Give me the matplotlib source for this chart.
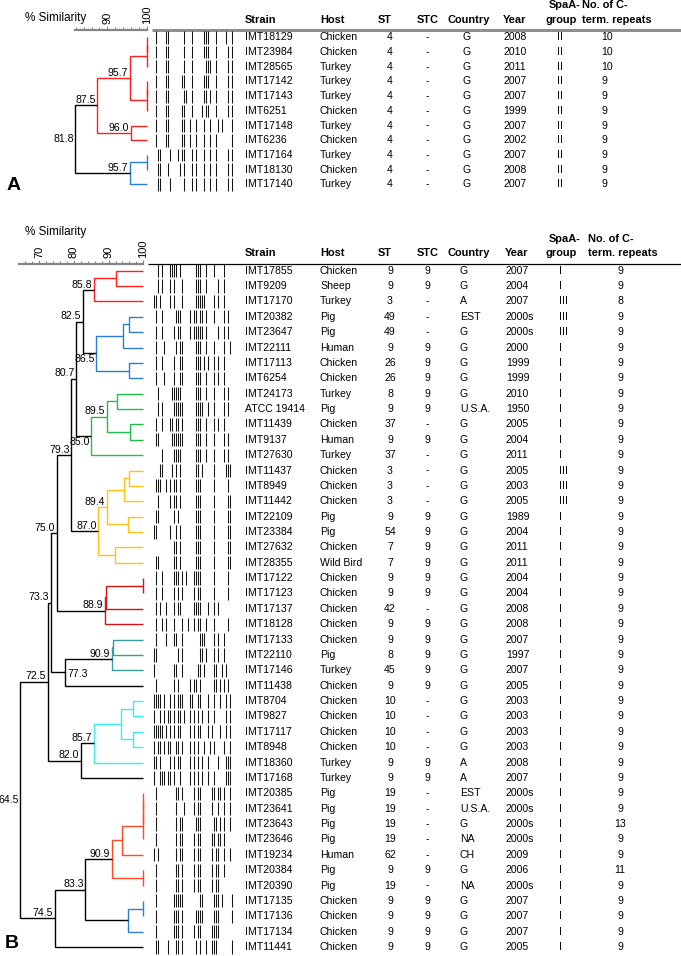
import numpy as np
import matplotlib
matplotlib.use("Agg")
import matplotlib.pyplot as plt

plt.rcParams['font.family'] = ['Liberation Sans', 'DejaVu Sans']
FS = 7.6
FS_HEAD = 7.9

# ---------------- panel A ----------------
strain_a = ["IMT18129", "IMT23984", "IMT28565", "IMT17142", "IMT17143", "IMT6251",
            "IMT17148", "IMT6236", "IMT17164", "IMT18130", "IMT17140"]
host_a = ["Chicken", "Chicken", "Turkey", "Turkey", "Turkey", "Chicken",
          "Turkey", "Chicken", "Turkey", "Chicken", "Turkey"]
st_a = ["4", "4", "4", "4", "4", "4", "4", "4", "4", "4", "4"]
stc_a = ["-", "-", "-", "-", "-", "-", "-", "-", "-", "-", "-"]
country_a = ["G", "G", "G", "G", "G", "G", "G", "G", "G", "G", "G"]
year_a = ["2008", "2010", "2011", "2007", "2007", "1999", "2007", "2002", "2007", "2008", "2007"]
spa_a = ["II", "II", "II", "II", "II", "II", "II", "II", "II", "II", "II"]
rep_a = ["10", "10", "10", "9", "9", "9", "9", "9", "9", "9", "9"]

# merges: (child, child, % similarity); leaves 0..10, new nodes numbered from 11
merges_a = [(0, 1, 100.0), (11, 2, 100.0), (3, 4, 100.0), (13, 5, 100.0),
            (12, 14, 95.7), (6, 7, 96.0), (15, 16, 87.5),
            (8, 9, 100.0), (18, 10, 95.7), (17, 19, 81.8)]
colors_a = ["red", "red", "red", "red", "red", "red", "red", "blue", "blue", "k"]
labels_a = ["", "", "", "", "95.7", "96.0", "87.5", "", "95.7", "81.8"]
places_a = {9: "left"}

# band positions (2 px slots across the lane)
gel_a = [
    [1, 6, 7, 15, 19, 25, 26, 27, 31, 36, 39],
    [1, 6, 7, 15, 19, 25, 26, 27, 31, 37, 39],
    [1, 6, 7, 15, 19, 26, 27, 28, 31, 37, 39],
    [1, 6, 7, 14, 15, 19, 25, 26, 27, 31, 37, 39],
    [1, 6, 7, 15, 16, 19, 25, 26, 28, 31, 37, 39],
    [1, 6, 7, 14, 15, 19, 24, 26, 27, 31, 37, 39],
    [1, 6, 7, 14, 15, 18, 21, 25, 28, 32, 34, 39],
    [1, 6, 7, 14, 15, 18, 21, 25, 28, 31, 39],
    [2, 3, 8, 12, 14, 15, 19, 21, 25, 28, 31, 37, 39],
    [2, 3, 7, 13, 15, 19, 21, 25, 28, 31, 37, 39],
    [2, 3, 8, 15, 19, 21, 25, 28, 31, 37, 39],
]

# ---------------- panel B ----------------
strain_b = ["IMT17855", "IMT9209", "IMT17170", "IMT20382", "IMT23647", "IMT22111", "IMT17113",
            "IMT6254", "IMT24173", "ATCC 19414", "IMT11439", "IMT9137", "IMT27630", "IMT11437",
            "IMT8949", "IMT11442", "IMT22109", "IMT23384", "IMT27632", "IMT28355", "IMT17122",
            "IMT17123", "IMT17137", "IMT18128", "IMT17133", "IMT22110", "IMT17146", "IMT11438",
            "IMT8704", "IMT9827", "IMT17117", "IMT8948", "IMT18360", "IMT17168", "IMT20385",
            "IMT23641", "IMT23643", "IMT23646", "IMT19234", "IMT20384", "IMT20390", "IMT17135",
            "IMT17136", "IMT17134", "IMT11441"]
host_b = ["Chicken", "Sheep", "Turkey", "Pig", "Pig", "Human", "Chicken", "Chicken", "Turkey",
          "Pig", "Chicken", "Human", "Turkey", "Chicken", "Chicken", "Chicken", "Pig", "Pig",
          "Chicken", "Wild Bird", "Chicken", "Chicken", "Chicken", "Chicken", "Chicken", "Pig",
          "Turkey", "Chicken", "Chicken", "Chicken", "Chicken", "Chicken", "Turkey", "Turkey",
          "Pig", "Pig", "Pig", "Pig", "Human", "Pig", "Pig", "Chicken", "Chicken", "Chicken",
          "Chicken"]
st_b = ["9", "9", "3", "49", "49", "9", "26", "26", "8", "9", "37", "9", "37", "3", "3", "3",
        "9", "54", "7", "7", "9", "9", "42", "9", "9", "8", "45", "9", "10", "10", "10", "10",
        "9", "9", "19", "19", "19", "19", "62", "9", "19", "9", "9", "9", "9"]
stc_b = ["9", "9", "-", "-", "-", "9", "9", "9", "9", "9", "-", "9", "-", "-", "-", "-",
         "9", "9", "9", "9", "9", "9", "-", "9", "9", "9", "9", "9", "-", "-", "-", "-",
         "9", "9", "-", "-", "-", "-", "-", "9", "-", "9", "9", "9", "9"]
country_b = ["G", "G", "A", "EST", "G", "G", "G", "G", "G", "U.S.A.", "G", "G", "G", "G", "G",
             "G", "G", "G", "G", "G", "G", "G", "G", "G", "G", "G", "G", "G", "G", "G", "G",
             "G", "A", "A", "EST", "U.S.A.", "G", "NA", "CH", "G", "NA", "G", "G", "G", "G"]
year_b = ["2007", "2004", "2007", "2000s", "2000s", "2000", "1999", "1999", "2010", "1950",
          "2005", "2004", "2011", "2005", "2003", "2005", "1989", "2004", "2011", "2011",
          "2004", "2004", "2008", "2008", "2007", "1997", "2007", "2005", "2003", "2003",
          "2003", "2003", "2008", "2007", "2000s", "2000s", "2000s", "2000s", "2009", "2006",
          "2000s", "2007", "2007", "2007", "2005"]
spa_b = ["I", "I", "III", "III", "III", "I", "I", "I", "I", "I", "I", "I", "I", "III", "III",
         "III", "I", "I", "I", "I", "I", "I", "I", "I", "I", "I", "I", "I", "I", "I", "I",
         "I", "I", "I", "I", "I", "I", "I", "I", "I", "I", "I", "I", "I", "I"]
rep_b = ["9", "9", "8", "9", "9", "9", "9", "9", "9", "9", "9", "9", "9", "9", "9", "9",
         "9", "9", "9", "9", "9", "9", "9", "9", "9", "9", "9", "9", "9", "9", "9", "9",
         "9", "9", "9", "9", "13", "9", "9", "11", "9", "9", "9", "9", "9"]

# leaves 0..44, new nodes numbered from 45
merges_b = [
    (0, 1, 92.1), (45, 2, 85.8),                                    # 45-46 red
    (3, 4, 96.0), (47, 5, 94.1), (6, 7, 96.0), (48, 49, 86.5),      # 47-50 blue
    (46, 50, 82.5),                                                 # 51
    (8, 9, 92.5), (10, 11, 96.2), (52, 53, 89.5), (54, 12, 85.0),   # 52-55 green
    (51, 55, 80.7),                                                 # 56
    (13, 14, 96.0), (57, 15, 94.4), (16, 17, 95.7), (58, 59, 89.4),
    (18, 19, 91.8), (60, 61, 87.0),                                 # 57-62 yellow
    (56, 62, 79.3),                                                 # 63
    (20, 21, 99.8), (64, 22, 89.2), (65, 23, 88.9),                 # 64-66 dark red
    (63, 66, 75.0),                                                 # 67
    (24, 25, 91.4), (68, 26, 90.9),                                 # 68-69 teal
    (69, 27, 77.3), (67, 70, 73.3),                                 # 70-71
    (28, 29, 96.9), (30, 31, 96.9), (72, 73, 93.5), (74, 32, 85.7), # 72-75 cyan
    (75, 33, 82.0), (71, 76, 72.5),                                 # 76-77
    (34, 35, 100.0), (78, 36, 100.0), (79, 37, 100.0), (80, 38, 93.8),
    (39, 40, 100.0), (81, 82, 90.9),                                # 78-83 orange
    (41, 42, 100.0), (84, 43, 95.7),                                # 84-85 blue
    (83, 85, 83.3), (86, 44, 74.5), (77, 87, 64.5),                 # 86-88
]
colors_b = ["red", "red", "blue", "blue", "blue", "blue", "k",
            "green", "green", "green", "green", "k",
            "yellow", "yellow", "yellow", "yellow", "yellow", "yellow", "k",
            "darkred", "darkred", "darkred", "k", "teal", "teal", "k", "k",
            "cyan", "cyan", "cyan", "cyan", "k", "k",
            "orange", "orange", "orange", "orange", "orange", "orange",
            "blue", "blue", "k", "k", "k"]
labels_b = ["", "85.8", "", "", "", "86.5", "82.5", "", "", "89.5", "85.0", "80.7",
            "", "", "", "89.4", "", "87.0", "79.3", "", "", "88.9", "75.0", "", "90.9",
            "77.3", "73.3", "", "", "", "85.7", "82.0", "72.5", "", "", "", "", "", "90.9",
            "", "", "83.3", "74.5", "64.5"]
places_b = {5: "below", 10: "below", 25: "right", 43: "left"}

gel_b = [
    [2, 4, 8, 9, 10, 11, 13, 21, 22, 23, 26, 30, 35],
    [2, 4, 8, 10, 14, 21, 22, 23, 26, 32, 35],
    [0, 1, 3, 8, 10, 14, 21, 22, 23, 24, 25, 30, 32, 35],
    [1, 4, 11, 12, 13, 18, 20, 21, 23, 24, 26, 30, 35, 37],
    [1, 4, 10, 12, 13, 18, 20, 21, 22, 23, 24, 26, 32, 35, 37],
    [1, 5, 11, 13, 14, 21, 22, 23, 26, 30, 35, 38],
    [1, 4, 10, 13, 14, 21, 22, 23, 25, 27, 30, 32, 35],
    [1, 5, 10, 13, 14, 21, 22, 23, 26, 30, 32, 35],
    [2, 9, 10, 11, 12, 13, 21, 22, 23, 26, 30, 35, 37],
    [2, 4, 10, 11, 12, 13, 14, 21, 22, 23, 24, 27, 30, 35, 37],
    [1, 4, 8, 9, 11, 12, 14, 21, 22, 23, 26, 30, 32, 35],
    [1, 2, 9, 10, 11, 12, 13, 14, 21, 22, 23, 26, 30, 35, 37],
    [4, 10, 11, 12, 13, 21, 22, 23, 26, 30, 35, 37],
    [3, 4, 9, 11, 13, 21, 22, 24, 30, 36, 37, 38],
    [1, 2, 3, 6, 8, 10, 11, 13, 21, 22, 23, 30, 37],
    [2, 8, 10, 11, 13, 21, 22, 23, 30, 37, 38],
    [1, 2, 10, 12, 21, 22, 23, 30, 37, 38],
    [0, 1, 8, 11, 13, 21, 22, 23, 30, 37, 38],
    [10, 11, 13, 21, 22, 23, 30, 37, 38],
    [1, 2, 10, 11, 13, 21, 22, 23, 30, 37, 38],
    [1, 4, 10, 11, 12, 14, 16, 20, 21, 22, 23, 30, 37],
    [1, 4, 10, 12, 14, 20, 22, 23, 30, 37],
    [1, 3, 6, 10, 12, 13, 20, 21, 22, 23, 27, 30, 32],
    [1, 4, 6, 10, 14, 17, 20, 22, 23, 26, 30, 37],
    [1, 6, 10, 11, 14, 23, 24, 25, 30, 32, 35],
    [0, 1, 12, 14, 23, 24, 26, 30, 32, 35],
    [0, 10, 11, 14, 22, 23, 25, 30, 31, 34, 36],
    [1, 10, 12, 18, 20, 21, 23, 30, 31, 33, 35, 37],
    [0, 1, 2, 3, 5, 8, 10, 12, 13, 14, 18, 19, 22, 23, 27, 30, 33, 36, 38],
    [0, 3, 5, 7, 8, 10, 12, 13, 15, 18, 20, 22, 24, 27, 30, 36, 38],
    [0, 1, 2, 3, 4, 6, 8, 10, 12, 13, 18, 20, 22, 23, 27, 29, 33, 36, 38],
    [0, 2, 3, 5, 7, 8, 11, 12, 14, 18, 20, 22, 25, 28, 30, 35, 38],
    [0, 1, 3, 8, 10, 12, 13, 18, 20, 22, 24, 27, 32, 36, 37, 38],
    [0, 3, 4, 5, 7, 8, 10, 13, 18, 20, 22, 24, 27, 30, 36, 37, 38],
    [1, 11, 12, 14, 20, 22, 23, 29, 30, 32, 33, 35, 38],
    [1, 11, 15, 20, 22, 23, 29, 32, 35, 38],
    [1, 11, 13, 14, 21, 22, 23, 30, 31, 33, 35, 38],
    [1, 11, 13, 14, 20, 22, 23, 29, 30, 32, 33, 35],
    [0, 2, 11, 13, 14, 20, 22, 23, 29, 31, 32, 35, 38],
    [1, 11, 12, 14, 20, 22, 23, 29, 31, 32, 35],
    [1, 11, 12, 14, 20, 22, 23, 29, 31, 32],
    [1, 10, 11, 12, 13, 14, 23, 24, 30, 31, 32, 34, 39],
    [1, 10, 11, 12, 14, 21, 22, 23, 24, 30, 31, 32, 39],
    [1, 10, 11, 12, 14, 20, 22, 23, 29, 30, 31, 32],
    [1, 2, 7, 11, 12, 14, 21, 23, 26, 29, 30, 31, 39],
]

palette = {"k": "black", "red": "#ff1f1f", "blue": "#2a7fd2", "green": "#1fbf4c",
           "yellow": "#ffc21a", "darkred": "#d41414", "teal": "#3a9a9c",
           "cyan": "#38ecf2", "orange": "#ff4a22"}

W, H = 681, 956
fig = plt.figure(figsize=(W / 100, H / 100), dpi=100)


def px_axes(x0, y0, x1, y1):
    ax = fig.add_axes([x0 / W, 1 - y1 / H, (x1 - x0) / W, (y1 - y0) / H])
    ax.patch.set_visible(False)
    return ax


def row_lim(ax, y_top, y_bot, y0, dy):
    ax.set_ylim((y_bot - y0) / dy, (y_top - y0) / dy)


def draw_tree(ax, merges, n, colors, labels, places):
    pos = {i: (100.0, float(i)) for i in range(n)}
    for k, (a, b, s) in enumerate(merges):
        xa, ya = pos[a]
        xb, yb = pos[b]
        c = palette[colors[k]]
        ax.plot([xa, s, s, xb], [ya, ya, yb, yb], color=c, lw=1.0,
                clip_on=False, solid_joinstyle="miter", solid_capstyle="butt")
        ym = (ya + yb) / 2
        pos[n + k] = (s, ym)
        if labels[k]:
            where = places.get(k, "above")
            if where == "above":
                kw = dict(xytext=(-1.3, 0.2), ha="right", va="bottom")
            elif where == "below":
                kw = dict(xytext=(-1.3, -0.8), ha="right", va="top")
            elif where == "right":
                kw = dict(xytext=(1.8, -1.5), ha="left", va="center")
            else:
                kw = dict(xytext=(-0.8, 0), ha="right", va="center")
            ax.annotate(labels[k], (s, ym), textcoords="offset points",
                        fontsize=FS, **kw)


def scale_axis(ax, lo, majors, minors):
    for side in ["left", "right", "bottom"]:
        ax.spines[side].set_visible(False)
    ax.spines["top"].set_bounds(lo, 100)
    ax.spines["top"].set_color("#858585")
    ax.spines["top"].set_linewidth(1.6)
    ax.xaxis.tick_top()
    ax.set_xticks(majors)
    ax.set_xticks(minors, minor=True)
    ax.set_yticks([])
    ax.tick_params(axis="x", which="both", direction="out", color="#858585",
                   width=0.8, pad=1.0, labelsize=FS + 0.4, labelrotation=90)
    ax.tick_params(axis="x", which="major", length=3.0)
    ax.tick_params(axis="x", which="minor", length=2.0)


def draw_gel(ax, gel, x0):
    for i, lane in enumerate(gel):
        xs = [x0 + 2 * s + 1 for s in lane]
        ax.vlines(xs, i - 0.43, i + 0.43, color="#151515", lw=0.75)


def draw_table(ax, cols, xs, aligns):
    for col, x, ha in zip(cols, xs, aligns):
        for i, v in enumerate(col):
            ax.text(x, i, v, ha=ha, va="center", fontsize=FS)


def draw_header(ax, y_main, y_top, xs_main, x_spa, x_grp, x_no, x_term):
    names = ["Strain", "Host", "ST", "STC", "Country", "Year"]
    aligns = ["left", "left", "center", "center", "center", "left"]
    for t, x, ha in zip(names, xs_main, aligns):
        ax.text(x, y_main, t, ha=ha, va="center", fontsize=FS_HEAD, fontweight="bold")
    ax.text(x_spa, y_top, "SpaA-", ha="left", va="center", fontsize=FS_HEAD,
            fontweight="bold")
    ax.text(x_grp, y_main, "group", ha="left", va="center", fontsize=FS_HEAD,
            fontweight="bold")
    ax.text(x_no, y_top, "No. of C-", ha="left", va="center", fontsize=FS_HEAD,
            fontweight="bold")
    ax.text(x_term, y_main, "term. repeats", ha="left", va="center", fontsize=FS_HEAD,
            fontweight="bold")


# ---------- panel A layout ----------
A_y0, A_dy = 37.4, 14.7
A_px100, A_pxper = 146.7, 3.94

tab_a = px_axes(0, 0, W, 200)
tab_a.set_xlim(0, W)
row_lim(tab_a, 0, 200, A_y0, A_dy)
tab_a.axis("off")

den_a = px_axes(0, 29.5, 152, 200)
den_a.set_xlim(100 - A_px100 / A_pxper, 100 + (152 - A_px100) / A_pxper)
row_lim(den_a, 29.5, 200, A_y0, A_dy)
scale_axis(den_a, 81.8, [90, 100], np.arange(82, 100, 2))
draw_tree(den_a, merges_a, len(strain_a), colors_a, labels_a, places_a)

tab_a.plot([152, W], [(30 - A_y0) / A_dy] * 2, color="#8f8f8f", lw=2.2,
           solid_capstyle="butt")
draw_gel(tab_a, gel_a, 152.7)
draw_table(tab_a, [strain_a, host_a, st_a, stc_a, country_a, year_a, spa_a, rep_a],
           [245, 320, 390, 427, 467, 503, 557, 601],
           ["left", "left", "center", "center", "center", "left", "left", "left"])
draw_header(tab_a, (20 - A_y0) / A_dy, (5 - A_y0) / A_dy,
            [245, 320, 385, 428, 469, 503], 549, 546, 582, 582)
tab_a.text(25, (18 - A_y0) / A_dy, "% Similarity", ha="left", va="center", fontsize=8.5)
tab_a.text(7, (190 - A_y0) / A_dy, "A", ha="left", va="baseline", fontsize=14,
           fontweight="bold")

# ---------- panel B layout ----------
B_y0, B_dy = 270.7, 15.37
B_px100, B_pxper = 143.3, 3.47

tab_b = px_axes(0, 225, W, H)
tab_b.set_xlim(0, W)
row_lim(tab_b, 225, H, B_y0, B_dy)
tab_b.axis("off")

den_b = px_axes(0, 263.5, 150, H)
den_b.set_xlim(100 - B_px100 / B_pxper, 100 + (150 - B_px100) / B_pxper)
row_lim(den_b, 263.5, H, B_y0, B_dy)
scale_axis(den_b, 64.3, [70, 80, 90, 100], [66, 68, 72, 74, 76, 78, 82, 84, 86, 88,
                                              92, 94, 96, 98])
draw_tree(den_b, merges_b, len(strain_b), colors_b, labels_b, places_b)

tab_b.plot([148, W], [(263.5 - B_y0) / B_dy] * 2, color="black", lw=0.9,
           solid_capstyle="butt")
draw_gel(tab_b, gel_b, 153)
draw_table(tab_b, [strain_b, host_b, st_b, stc_b, country_b, year_b, spa_b, rep_b],
           [245, 320, 390, 427, 460, 506, 559, 620],
           ["left", "left", "center", "center", "left", "left", "left", "center"])
draw_header(tab_b, (253 - B_y0) / B_dy, (239 - B_y0) / B_dy,
            [245, 320, 385, 428, 469, 505], 549, 546, 588, 588)
tab_b.text(25, (232 - B_y0) / B_dy, "% Similarity", ha="left", va="center", fontsize=8.5)
tab_b.text(5, (948 - B_y0) / B_dy, "B", ha="left", va="baseline", fontsize=14,
           fontweight="bold")

fig.savefig("out.png", dpi=100)
